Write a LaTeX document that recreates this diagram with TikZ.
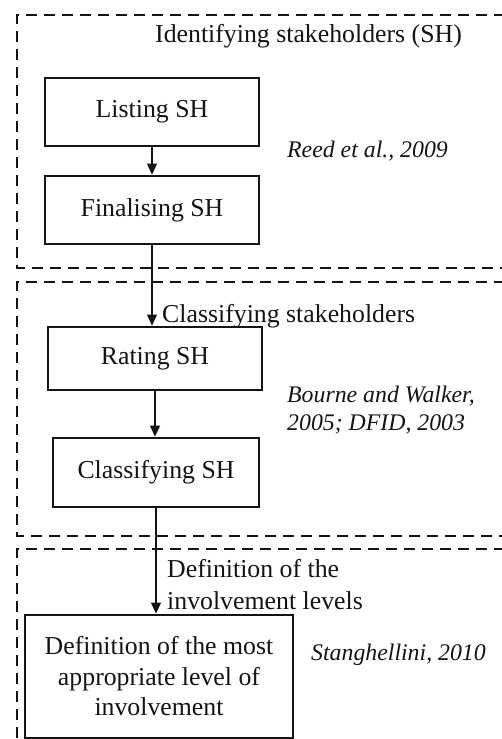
\documentclass[tikz,border=0pt]{standalone}
\usepackage{fontspec}
\setmainfont{Liberation Serif}
\usetikzlibrary{arrows.meta}
\definecolor{ink}{RGB}{20,20,20}
\tikzset{
  >={Triangle[length=11pt,width=10pt]},
  stage/.style={draw=ink,line width=2.8pt,minimum width=#1,align=center,inner sep=0pt,
    text=ink,font=\fontsize{25.8}{30.5}\selectfont},
  stage/.default=214pt,
  frame/.style={draw=ink,line width=2.8pt,dash pattern=on 11pt off 7pt},
  flow/.style={->,draw=ink,line width=1.1pt},
  tag/.style={anchor=base west,inner sep=0pt,align=left,text=ink,
    font=\fontsize{25.8}{31.5}\selectfont},
  cite/.style={anchor=base west,inner sep=0pt,align=left,text=ink,
    font=\fontsize{23.8}{28}\selectfont\itshape},
}
\begin{document}
\begin{tikzpicture}[x=1pt,y=-1pt]
  \useasboundingbox (0,0) rectangle (501,739);
  % dashed phase frames, open to the right
  \draw[frame] (505,15) -| (17,268) -- (505,268);
  \draw[frame] (505,282) -| (17,536) -- (505,536);
  \draw[frame] (505,549) -| (17,745);
  % identifying
  \node[tag] (title) at (155,42) {Identifying stakeholders (SH)};
  \node[stage,minimum height=68pt] (list) at (152,112) {Listing SH};
  \node[stage,minimum height=68pt] (final) at (152,210) {Finalising SH};
  \node[cite] (reed) at (287,157) {Reed et al., 2009};
  % classifying (base = last line)
  \node[tag] (classlab) at (162,322.7) {Classifying stakeholders};
  \node[stage,minimum height=63pt] (rate) at (155,358.5) {Rating SH};
  \node[cite] (bourne) at (287,430) {Bourne and Walker,\\2005; DFID, 2003};
  \node[stage=206pt,minimum height=69pt] (classify) at (156,472.5) {Classifying SH};
  % involvement
  \node[tag] (levlab) at (167,609.3) {Definition of the\\involvement levels};
  \node[stage=268pt,minimum height=123pt] (define) at (159,676.5)
    {Definition of the most\\appropriate level of\\involvement};
  \node[cite] (stang) at (311,660) {Stanghellini, 2010};
  \draw[flow] (list) -- (final);
  \draw[flow] (final.south) -- (final.south |- rate.north);
  \draw[flow] (rate.south) -- (rate.south |- classify.north);
  \draw[flow] (classify.south) -- (classify.south |- define.north);
\end{tikzpicture}
\end{document}
